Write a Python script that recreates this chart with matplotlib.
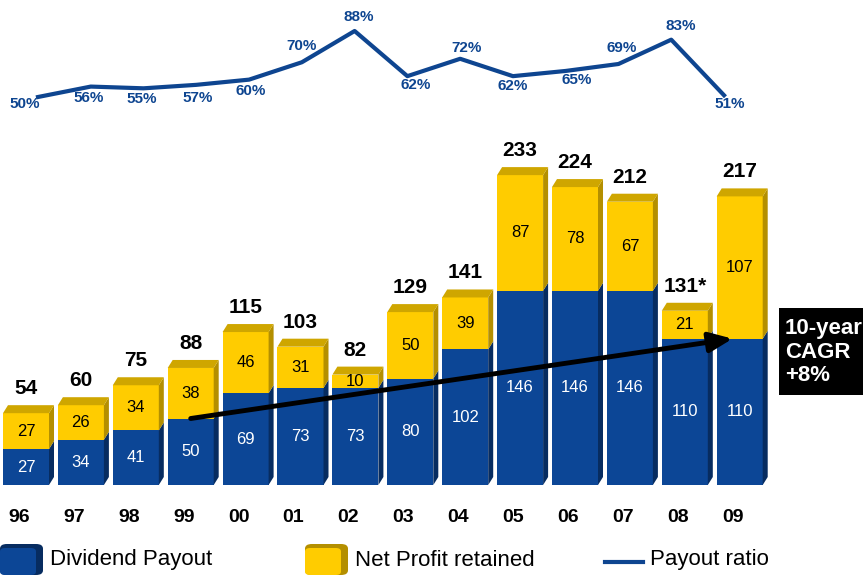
import matplotlib.pyplot as plt
from matplotlib.patches import Polygon, Rectangle, FancyBboxPatch
from matplotlib.lines import Line2D
import numpy as np

plt.rcParams['font.family'] = ['Liberation Sans', 'DejaVu Sans']

# data
years = ["96", "97", "98", "99", "00", "01", "02", "03", "04", "05", "06", "07", "08", "09"]
dividend = [27, 34, 41, 50, 69, 73, 73, 80, 102, 146, 146, 146, 110, 110]
retained = [27, 26, 34, 38, 46, 31, 10, 50, 39, 87, 78, 67, 21, 107]
totals = [54, 60, 75, 88, 115, 103, 82, 129, 141, 233, 224, 212, 131, 217]
total_labels = ["54", "60", "75", "88", "115", "103", "82", "129", "141", "233", "224", "212", "131*", "217"]
payout = [50, 56, 55, 57, 60, 70, 88, 62, 72, 62, 65, 69, 83, 51]

# label offsets for the payout ratio line (pixels)
label_offsets = [(-13, -7), (-2, -11), (-2, -11), (1, -13), (2, -11), (0, 16), (4, 14),
                 (8, -9), (6, 11), (0, -10), (11, -9), (3, 16), (10, 14), (6, -9)]

BLUE = "#0C4696"
BLUE_SIDE = "#072C60"
YELLOW = "#FFCC00"
GOLD_SIDE = "#B48F00"
GOLD_TOP = "#CFA600"
LINE = "#0E4590"

W, H = 863, 577
fig = plt.figure(figsize=(W / 100, H / 100), dpi=100)

# bar axes
ax = fig.add_axes([0, (H - 485) / H, 1, 355 / H])
ax.set_xlim(-26 / 54.9, (W - 26) / 54.9)
ax.set_ylim(0, 355 / 1.33)
ax.axis("off")

x = np.arange(len(years))
bw = 0.838
dx = 5 / 54.9
dy = 8 / 1.33


def bar3d(xc, y0, y1, front, side, top=None):
    x0, x1 = xc - bw / 2, xc + bw / 2
    ax.add_patch(Rectangle((x0, y0), bw, y1 - y0, facecolor=front, edgecolor="none"))
    ax.add_patch(Polygon([(x1, y0), (x1 + dx, y0 + dy), (x1 + dx, y1 + dy), (x1, y1)],
                         closed=True, facecolor=side, edgecolor="none"))
    if top is not None:
        ax.add_patch(Polygon([(x0, y1), (x0 + dx, y1 + dy), (x1 + dx, y1 + dy), (x1, y1)],
                             closed=True, facecolor=top, edgecolor="none"))


for i in x:
    d, r = dividend[i], retained[i]
    bar3d(i, 0, d, BLUE, BLUE_SIDE)
    bar3d(i, d, d + r, YELLOW, GOLD_SIDE, GOLD_TOP)
    ax.text(i, d / 2, str(d), ha="center", va="center", color="white", fontsize=12)
    ax.text(i, d + r / 2, str(r), ha="center", va="center", color="black", fontsize=12)
    ax.annotate(total_labels[i], (i, d + r + dy), xytext=(0, 7), textcoords="offset pixels",
                ha="center", va="bottom", fontsize=15, fontweight="bold")
    ax.annotate(years[i], (i, 0), xycoords=("data", "axes fraction"), xytext=(-7, -33),
                textcoords="offset pixels", ha="center", va="center",
                fontsize=14, fontweight="bold")

# growth arrow from 99 dividend to 09 dividend
ax.annotate("", xy=(x[-1] - 0.13, dividend[-1]), xytext=(x[3], dividend[3]),
            arrowprops=dict(arrowstyle="-|>,head_length=1.4,head_width=0.6",
                            color="black", lw=3.5, shrinkA=0, shrinkB=0))

# payout ratio line
lax = fig.add_axes([0, (H - 130) / H, 1, 130 / H])
lax.set_xlim(-38 / 52.77, (W - 38) / 52.77)
lax.set_ylim(50 - 33 / 1.737, 50 + 97 / 1.737)
lax.axis("off")
lax.plot(x, payout, color=LINE, lw=3)
for i, p in enumerate(payout):
    lax.annotate(f"{p}%", (i, p), xytext=label_offsets[i], textcoords="offset pixels",
                 ha="center", va="center", color=LINE, fontsize=11, fontweight="bold")

# CAGR box
fig.add_artist(Rectangle((779 / W, (H - 395) / H), 90 / W, 87 / H,
                         transform=fig.transFigure, facecolor="black", edgecolor="none"))
fig.text(785 / W, (H - 352) / H, "10-year\nCAGR\n+8%", color="white", fontsize=16,
         fontweight="bold", ha="left", va="center", linespacing=1.15)

# legend
def legend_box(x0, face, side):
    fig.add_artist(FancyBboxPatch((x0 / W, 2 / H), 43 / W, 31 / H, transform=fig.transFigure,
                                  boxstyle="round,pad=0,rounding_size=0.008",
                                  facecolor=side, edgecolor="none"))
    fig.add_artist(FancyBboxPatch((x0 / W, 2 / H), 36 / W, 27 / H, transform=fig.transFigure,
                                  boxstyle="round,pad=0,rounding_size=0.006",
                                  facecolor=face, edgecolor="none"))


legend_box(0, BLUE, BLUE_SIDE)
fig.text(50 / W, (H - 560) / H, "Dividend Payout", fontsize=16, va="center")
legend_box(305, YELLOW, GOLD_SIDE)
fig.text(355 / W, (H - 560) / H, "Net Profit retained", fontsize=16, va="center")
fig.add_artist(Line2D([605 / W, 643 / W], [(H - 562) / H] * 2, transform=fig.transFigure,
                      color=LINE, lw=3))
fig.text(650 / W, (H - 560) / H, "Payout ratio", fontsize=16, va="center")

fig.savefig("out.png", dpi=100)
